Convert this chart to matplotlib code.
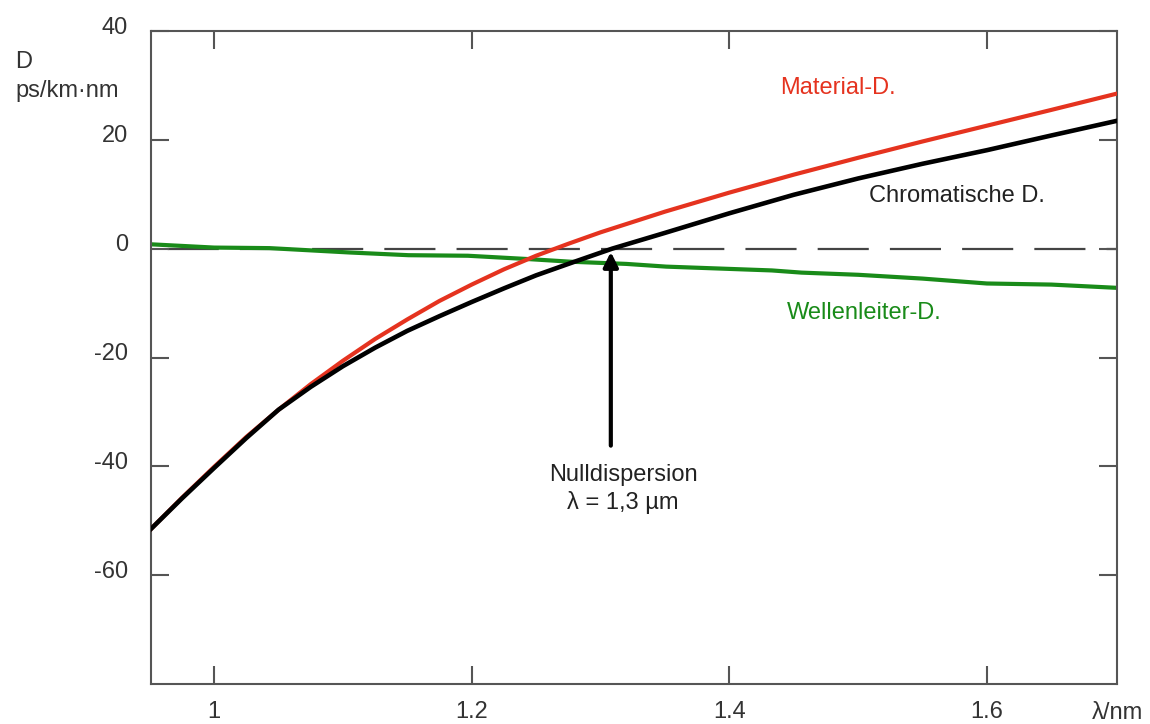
import matplotlib
matplotlib.use("Agg")
import matplotlib.pyplot as plt
import matplotlib.transforms as mtransforms

plt.rcParams['font.family'] = ['Liberation Sans', 'DejaVu Sans']

# wavelength (um) and dispersion (ps/km nm) for each contribution
lam_mat = [0.951, 0.975, 1.0, 1.025, 1.05, 1.075, 1.1, 1.125, 1.15, 1.175, 1.2, 1.225, 1.25,
           1.275, 1.3, 1.35, 1.4, 1.45, 1.5, 1.55, 1.6, 1.65, 1.701]
material = [-51.5, -45.8, -40.1, -34.6, -29.6, -24.9, -20.6, -16.6, -13.0, -9.6, -6.6, -3.8, -1.3,
            0.9, 3.0, 6.8, 10.3, 13.6, 16.7, 19.7, 22.6, 25.5, 28.5]

lam_chr = [0.951, 0.975, 1.0, 1.025, 1.05, 1.075, 1.1, 1.125, 1.15, 1.175, 1.2, 1.225, 1.25,
           1.275, 1.309, 1.35, 1.4, 1.45, 1.5, 1.55, 1.6, 1.65, 1.701]
chromatic = [-51.5, -45.9, -40.3, -34.8, -29.6, -25.4, -21.6, -18.2, -15.1, -12.4, -9.8, -7.3, -4.9,
             -2.8, 0.0, 2.9, 6.5, 9.9, 12.9, 15.6, 18.1, 20.8, 23.5]

lam_wg = [0.951, 1.0, 1.043, 1.105, 1.151, 1.197, 1.243, 1.277, 1.32, 1.351, 1.433, 1.456,
          1.5, 1.55, 1.6, 1.65, 1.701]
waveguide = [0.8, 0.2, 0.1, -0.7, -1.2, -1.3, -1.9, -2.4, -2.8, -3.3, -4.0, -4.4,
             -4.8, -5.5, -6.4, -6.6, -7.2]

lam_zero = 1.308

xticks = [1.0, 1.2, 1.4, 1.6]
xticklabels = ['1', '1.2', '1.4', '1.6']
yticks = [-60, -40, -20, 0, 20, 40]

fs = 17
grey = '#333333'
red = '#e5331f'
green = '#198b19'

fig = plt.figure(figsize=(11.5, 7.24), dpi=100)
ax = fig.add_axes([151/1150, 1-684/724, (1117-151)/1150, (684-31)/724])

ax.axhline(0, color='#444444', lw=1.6, linestyle=(25, (23, 9.5)), zorder=1)
ax.plot(lam_wg, waveguide, color=green, lw=3, zorder=2, solid_joinstyle='round')
ax.plot(lam_mat, material, color=red, lw=3, zorder=3, solid_joinstyle='round')
ax.plot(lam_chr, chromatic, color='black', lw=3.3, zorder=4, solid_joinstyle='round')

ax.annotate('', xy=(lam_zero, -0.6), xytext=(lam_zero, -36.2),
            arrowprops=dict(arrowstyle='-|>', color='black', lw=3,
                            mutation_scale=22, shrinkA=0, shrinkB=0))

ax.set_xlim(0.951, 1.701)
ax.set_ylim(-80, 40)
ax.set_xticks(xticks)
ax.set_xticklabels(xticklabels)
ax.set_yticks(yticks)
ax.set_yticklabels([str(v) for v in yticks])

ax.tick_params(direction='in', length=12.7, width=1.5, color='#555555',
               labelsize=fs, labelcolor=grey, top=True, right=True)
ax.tick_params(axis='x', pad=12.5)
ax.tick_params(axis='y', pad=16.5)
for s in ax.spines.values():
    s.set_color('#555555')
    s.set_linewidth(1.5)

# y labels sit slightly above their ticks
shift = mtransforms.ScaledTranslation(0, 6/100, fig.dpi_scale_trans)
for lbl in ax.get_yticklabels():
    lbl.set_transform(lbl.get_transform() + shift)

ax.text(1.0, -0.027, 'λ/nm', transform=ax.transAxes, ha='center', va='top',
        fontsize=fs, color=grey)
fig.text(15/1150, 1-62/724, 'D', fontsize=fs, color=grey, va='center')
fig.text(15/1150, 1-91/724, 'ps/km·nm', fontsize=fs, color=grey, va='center')

ax.text(1.484, 29.5, 'Material-D.', color=red, fontsize=fs, ha='center', va='center')
ax.text(1.577, 9.6, 'Chromatische D.', color='#222222', fontsize=fs, ha='center', va='center')
ax.text(1.505, -11.8, 'Wellenleiter-D.', color=green, fontsize=fs, ha='center', va='center')
ax.text(1.3175, -44.1, 'Nulldispersion\nλ = 1,3 µm', color='#222222', fontsize=fs,
        ha='center', va='center', linespacing=1.27)

fig.savefig('out.png', dpi=100)
